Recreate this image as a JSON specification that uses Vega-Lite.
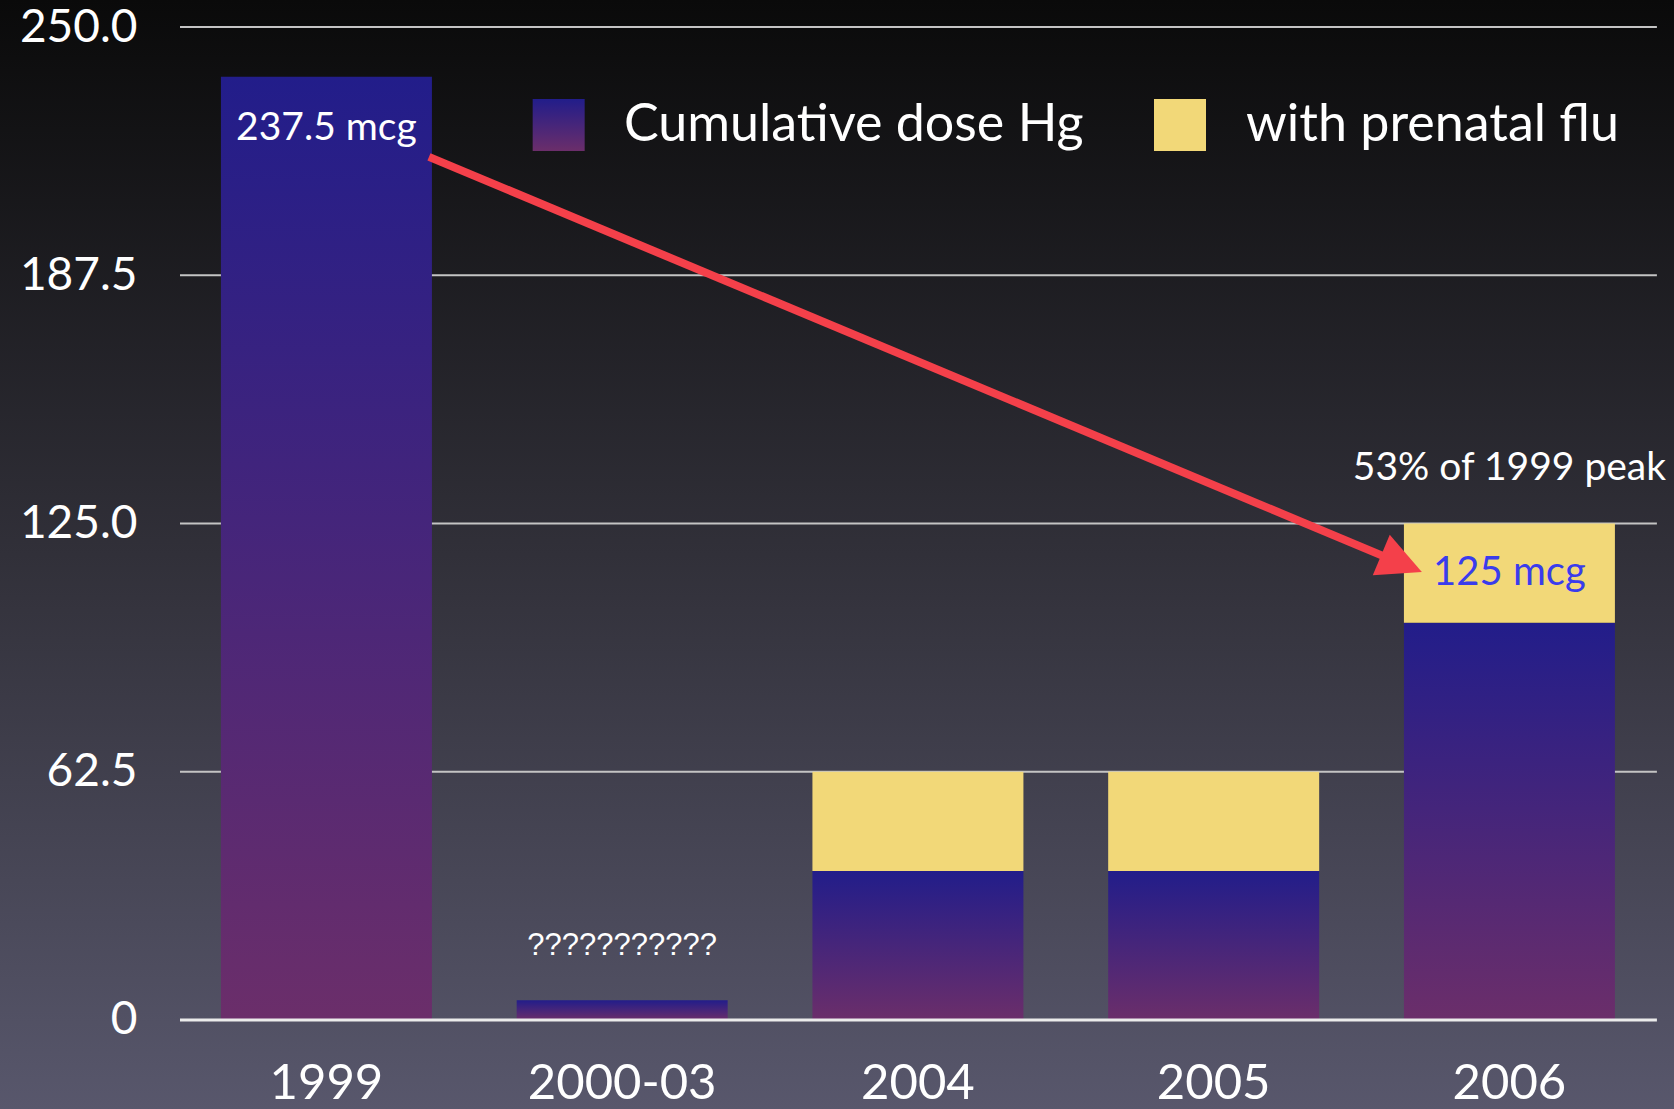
{
  "$schema": "https://vega.github.io/schema/vega-lite/v6.json",
  "width": 1674,
  "height": 1109,
  "autosize": {"type": "none"},
  "padding": 0,
  "background": "#0a0a0a",
  "usermeta": {"embedOptions": {"actions": false}},
  "config": {
    "font": "Lato",
    "view": {
      "stroke": null,
      "fill": {"gradient": "linear", "x1": 0, "y1": 0, "x2": 0, "y2": 1,
        "stops": [{"offset": 0, "color": "#0a0a0a"}, {"offset": 0.5, "color": "#313039"}, {"offset": 1, "color": "#58576c"}]}
    }
  },
  "data": {"values": [
    {"period": "1999", "hg": 237.5, "total": 237.5},
    {"period": "2000-03", "hg": 5, "total": 5},
    {"period": "2004", "hg": 37.5, "total": 62.5},
    {"period": "2005", "hg": 37.5, "total": 62.5},
    {"period": "2006", "hg": 100, "total": 125}
  ]},
  "layer": [
    {
      "data": {"values": [{"v": 62.5}, {"v": 125}, {"v": 187.5}, {"v": 250}]},
      "mark": {"type": "rule", "color": "#c4c4c4", "strokeWidth": 2},
      "encoding": {
        "y": {"field": "v", "type": "quantitative", "title": null},
        "x": {"datum": "1999", "type": "nominal", "bandPosition": -0.194, "title": null},
        "x2": {"datum": "2006", "bandPosition": 1.199}
      }
    },
    {
      "mark": {"type": "bar", "color": {"gradient": "linear", "x1": 0, "y1": 0, "x2": 0, "y2": 1, "stops": [{"offset": 0, "color": "#221d8a"}, {"offset": 1, "color": "#6b2e6a"}]}},
      "encoding": {
        "x": {
          "field": "period", "type": "nominal",
          "scale": {"type": "band", "domain": ["1999", "2000-03", "2004", "2005", "2006"], "paddingInner": 0.2866, "paddingOuter": 0.4734, "align": 0.789, "round": false},
          "axis": {"orient": "bottom", "title": null, "offset": -11, "labelPadding": 0, "labelBaseline": "alphabetic", "labelAlign": "center", "labelLimit": 500, "ticks": false, "tickSize": 0, "domain": false, "grid": false, "labelFont": "Lato", "labelFontSize": 49, "labelColor": "white", "labelAngle": 0}
        },
        "y": {
          "field": "hg", "type": "quantitative",
          "scale": {"domain": [-22.41, 256.8], "nice": false, "zero": false},
          "axis": {"values": [0, 62.5, 125, 187.5, 250], "labelExpr": "datum.value == 0 ? '0' : format(datum.value, '.1f')", "title": null, "grid": false, "domain": false, "ticks": false, "tickSize": 0, "offset": -137, "labelPadding": 0, "labelFont": "Lato", "labelFontSize": 46, "labelColor": "white"}
        },
        "y2": {"datum": 0}
      }
    },
    {
      "transform": [{"filter": "datum.total > datum.hg"}],
      "mark": {"type": "bar"},
      "encoding": {
        "x": {"field": "period", "type": "nominal", "title": null},
        "y": {"field": "hg", "type": "quantitative", "title": null},
        "y2": {"field": "total"},
        "color": {
          "datum": "with prenatal flu", "type": "nominal",
          "scale": {"domain": ["Cumulative dose Hg", "with prenatal flu"], "range": ["transparent", "#f2d878"]},
          "legend": {
            "orient": "none", "legendX": 532, "legendY": 99, "direction": "horizontal", "title": null,
            "symbolType": "square", "symbolSize": 2704, "symbolStrokeWidth": 0, "symbolOpacity": 1,
            "labelFontSize": 52, "labelColor": "white", "labelFont": "Lato", "labelOffset": 40,
            "columnPadding": 70, "padding": 0, "labelLimit": 700
          }
        }
      }
    },
    {
      "data": {"values": [{"v": 0}]},
      "mark": {"type": "rule", "color": "#ebebeb", "strokeWidth": 3},
      "encoding": {
        "y": {"field": "v", "type": "quantitative", "title": null},
        "x": {"datum": "1999", "type": "nominal", "bandPosition": -0.194, "title": null},
        "x2": {"datum": "2006", "bandPosition": 1.199}
      }
    },
    {
      "data": {"values": [{"period": "1999", "value": 237.5, "label": "237.5 mcg"}]},
      "mark": {"type": "text", "font": "Lato", "fontSize": 39, "color": "white", "baseline": "middle", "align": "center", "dy": 51},
      "encoding": {
        "x": {"field": "period", "type": "nominal", "title": null},
        "y": {"field": "value", "type": "quantitative", "title": null},
        "text": {"field": "label"}
      }
    },
    {
      "data": {"values": [{"period": "2000-03", "value": 5, "label": "???????????"}]},
      "mark": {"type": "text", "font": "Liberation Sans", "fontSize": 31, "color": "white", "baseline": "middle", "align": "center", "dy": -54},
      "encoding": {
        "x": {"field": "period", "type": "nominal", "title": null},
        "y": {"field": "value", "type": "quantitative", "title": null},
        "text": {"field": "label"}
      }
    },
    {
      "data": {"values": [{"period": "2006", "value": 125, "label": "53% of 1999 peak"}]},
      "mark": {"type": "text", "font": "Lato", "fontSize": 39, "color": "white", "baseline": "middle", "align": "center", "dy": -55},
      "encoding": {
        "x": {"field": "period", "type": "nominal", "title": null},
        "y": {"field": "value", "type": "quantitative", "title": null},
        "text": {"field": "label"}
      }
    },
    {
      "data": {"values": [{"period": "2006", "value": 125, "label": "125 mcg"}]},
      "mark": {"type": "text", "font": "Lato", "fontSize": 40, "color": "#3a3cec", "baseline": "middle", "align": "center", "dy": 50},
      "encoding": {
        "x": {"field": "period", "type": "nominal", "title": null},
        "y": {"field": "value", "type": "quantitative", "title": null},
        "text": {"field": "label"}
      }
    },
    {
      "data": {"values": [{}]},
      "mark": {"type": "point", "shape": "square", "size": 2704, "filled": true, "opacity": 1, "strokeWidth": 0,
        "color": {"gradient": "linear", "x1": 0, "y1": 0, "x2": 0, "y2": 1, "stops": [{"offset": 0, "color": "#221d8a"}, {"offset": 1, "color": "#6b2e6a"}]}},
      "encoding": {
        "x": {"datum": "2000-03", "type": "nominal", "bandPosition": 0.199, "title": null},
        "y": {"datum": 225.3, "type": "quantitative", "title": null}
      }
    },
    {
      "data": {"values": [{}]},
      "mark": {"type": "rule", "color": "#f4404a", "strokeWidth": 8, "strokeCap": "butt"},
      "encoding": {
        "x": {"datum": "1999", "type": "nominal", "bandPosition": 0.986, "title": null},
        "y": {"datum": 217.3, "type": "quantitative", "title": null},
        "x2": {"datum": "2006", "bandPosition": -0.066},
        "y2": {"datum": 116.1}
      }
    },
    {
      "data": {"values": [{}]},
      "mark": {"type": "point", "shape": "M0,0L-1,-0.5L-1,0.5Z", "size": 7744, "angle": 22.7, "filled": true, "color": "#f4404a", "opacity": 1, "strokeWidth": 0},
      "encoding": {
        "x": {"datum": "2006", "type": "nominal", "bandPosition": 0.085, "title": null},
        "y": {"datum": 112.8, "type": "quantitative", "title": null}
      }
    }
  ]
}
